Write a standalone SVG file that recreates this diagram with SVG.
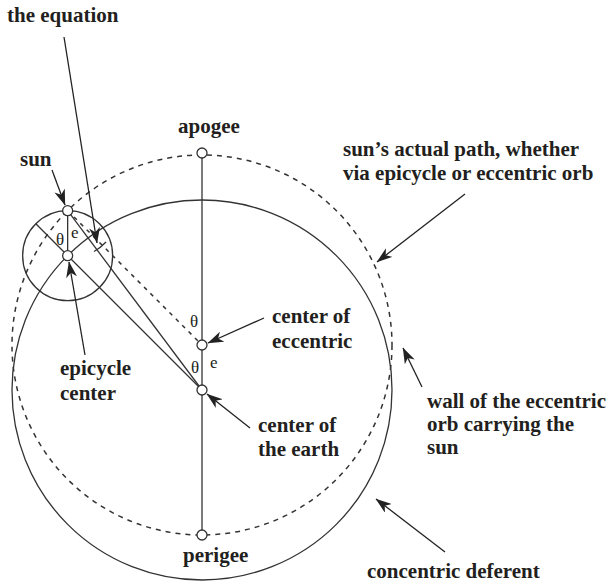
<svg xmlns="http://www.w3.org/2000/svg" width="611" height="585" viewBox="0 0 611 585">
<defs>
<style>
.ln{stroke:#333;stroke-width:1.3;fill:none}
.dash{stroke:#333;stroke-width:1.5;fill:none;stroke-dasharray:5 5}
.node{fill:#fff;stroke:#333;stroke-width:1.3}
.ptr{stroke:#222;stroke-width:1.3;fill:none;marker-end:url(#arr)}
.lbl{font-family:"Liberation Serif","Times New Roman",serif;font-weight:bold;font-size:21px;fill:#231f20}
.gk{font-family:"Liberation Serif","Times New Roman",serif;font-size:17px;fill:#231f20}
</style>
<marker id="arr" viewBox="0 0 16 11" refX="15.5" refY="5.5" markerWidth="16" markerHeight="11" orient="auto" markerUnits="userSpaceOnUse">
<path d="M0,0 L16,5.5 L0,11 L4.5,5.5 z" fill="#222"/>
</marker>
</defs>
<rect width="611" height="585" fill="#fff"/>
<g id="connectors">
<circle class="dash" cx="202" cy="345" r="190"/>
<circle class="ln" cx="202" cy="390" r="190"/>
<circle class="ln" cx="67.65" cy="255.65" r="45"/>
<line class="ln" x1="202" y1="153" x2="202" y2="535"/>
<line class="ln" x1="35.83" y1="223.83" x2="202" y2="390"/>
<line class="ln" x1="67.65" y1="210.65" x2="202" y2="390"/>
<line class="ln" x1="67.65" y1="210.65" x2="67.65" y2="255.65"/>
<line class="dash" x1="67.65" y1="210.65" x2="202" y2="345" style="stroke-dasharray:4 5"/>
<path class="ln" d="M94,251.5 A49,49 0 0 0 106,242"/>
<line class="ptr" x1="64" y1="37" x2="97" y2="243"/>
<line class="ptr" x1="52" y1="170" x2="65" y2="205"/>
<line class="ptr" x1="85" y1="355" x2="69" y2="262"/>
<line class="ptr" x1="264" y1="318" x2="208" y2="343"/>
<line class="ptr" x1="250" y1="428" x2="207" y2="394"/>
<line class="ptr" x1="465" y1="194" x2="377" y2="262"/>
<line class="ptr" x1="422" y1="387" x2="403" y2="348"/>
<line class="ptr" x1="445" y1="552" x2="376" y2="499"/>
</g>
<g id="apogee"><circle class="node" cx="202" cy="153" r="5"/><text class="lbl" x="178" y="133">apogee</text></g>
<g id="perigee"><circle class="node" cx="202" cy="535" r="5"/><text class="lbl" x="183" y="562">perigee</text></g>
<g id="sun"><circle class="node" cx="67.65" cy="210.65" r="5"/><text class="lbl" x="20" y="166">sun</text></g>
<g id="epicycle-center"><circle class="node" cx="67.65" cy="255.65" r="5"/><text class="lbl" x="60" y="375">epicycle</text><text class="lbl" x="60" y="400">center</text></g>
<g id="eccentric-center"><circle class="node" cx="202" cy="345" r="5"/><text class="lbl" x="272" y="323">center of</text><text class="lbl" x="272" y="348">eccentric</text></g>
<g id="earth-center"><circle class="node" cx="202" cy="390" r="5"/><text class="lbl" x="258" y="432">center of</text><text class="lbl" x="258" y="456">the earth</text></g>
<g id="equation"><text class="lbl" x="7" y="22">the equation</text></g>
<g id="sun-path"><text class="lbl" x="343" y="156">sun’s actual path, whether</text><text class="lbl" x="343" y="180">via epicycle or eccentric orb</text></g>
<g id="eccentric-wall"><text class="lbl" x="427" y="408">wall of the eccentric</text><text class="lbl" x="427" y="431">orb carrying the</text><text class="lbl" x="427" y="454">sun</text></g>
<g id="deferent"><text class="lbl" x="367" y="578">concentric deferent</text></g>
<g id="angles">
<text class="gk" x="56" y="245">θ</text>
<text class="gk" x="71" y="238">e</text>
<text class="gk" x="190" y="327">θ</text>
<text class="gk" x="191" y="373">θ</text>
<text class="gk" x="210" y="368">e</text>
</g>
</svg>
